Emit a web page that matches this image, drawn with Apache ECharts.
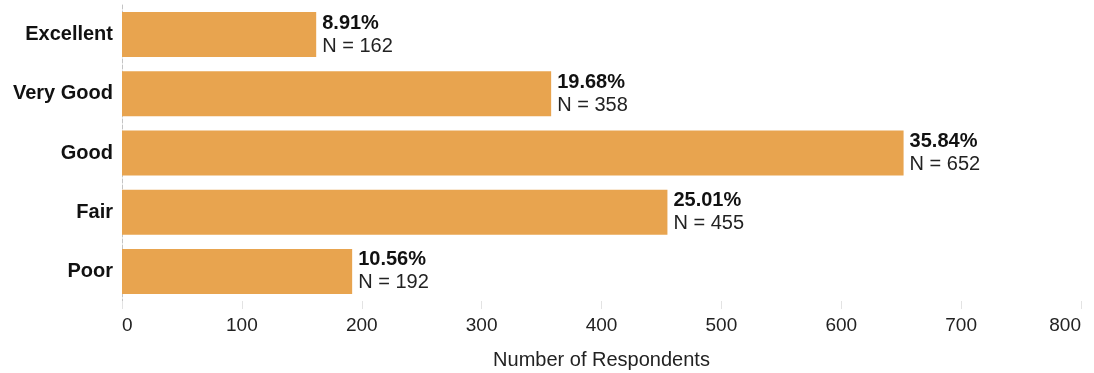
<!DOCTYPE html>
<html>
<head>
    <meta charset="utf-8">
    <title>ECharts</title>
    <script src="https://cdn.jsdelivr.net/npm/echarts@6/dist/echarts.min.js"></script>
    <style>
        body { margin: 0; background: #fff; }
    </style>
</head>
<body>
<div id="main" style="width: 1094px;height:373px;"></div>
<script type="text/javascript">
    // 数据
    var categories = ['Excellent', 'Very Good', 'Good', 'Fair', 'Poor'];
    var counts = [162, 358, 652, 455, 192];
    var percents = ['8.91%', '19.68%', '35.84%', '25.01%', '10.56%'];
    var xTicks = [0, 100, 200, 300, 400, 500, 600, 700, 800];

    var myChart = echarts.init(document.getElementById('main'));
    var font = '"Liberation Sans", Arial, sans-serif';

    var option = {
        animation: false,
        textStyle: { fontFamily: font },
        grid: { left: 122, right: 13, top: 5, bottom: 72, outerBoundsMode: 'none', containLabel: false },
        xAxis: {
            type: 'value',
            min: xTicks[0],
            max: xTicks[xTicks.length - 1],
            interval: 100,
            name: 'Number of Respondents',
            nameLocation: 'middle',
            nameGap: 49,
            nameTextStyle: { fontSize: 20, color: '#222', fontFamily: font },
            axisLine: { show: false },
            axisTick: { show: true, length: 8, lineStyle: { color: '#e3e3e3' } },
            splitLine: { show: false },
            axisLabel: {
                fontSize: 19, color: '#222', margin: 15, fontFamily: font,
                alignMinLabel: 'left', alignMaxLabel: 'right'
            }
        },
        yAxis: {
            type: 'category',
            data: categories,
            inverse: true,
            axisLine: { show: true, lineStyle: { color: '#c4c4c4', type: 'dashed' } },
            axisTick: { show: false },
            axisLabel: { fontSize: 20, fontWeight: 'bold', color: '#111', margin: 9, fontFamily: font }
        },
        series: [{
            type: 'bar',
            data: counts,
            barWidth: 45,
            itemStyle: { color: '#E8A44F' },
            label: {
                show: true,
                position: 'right',
                distance: 6,
                formatter: function (p) {
                    return '{b|' + percents[p.dataIndex] + '}\n{n|N = ' + p.value + '}';
                },
                rich: {
                    b: { fontSize: 20, fontWeight: 'bold', color: '#111', lineHeight: 23, fontFamily: font },
                    n: { fontSize: 20, color: '#222', lineHeight: 23, fontFamily: font }
                }
            }
        }]
    };

    myChart.setOption(option);
</script>
</body>
</html>
